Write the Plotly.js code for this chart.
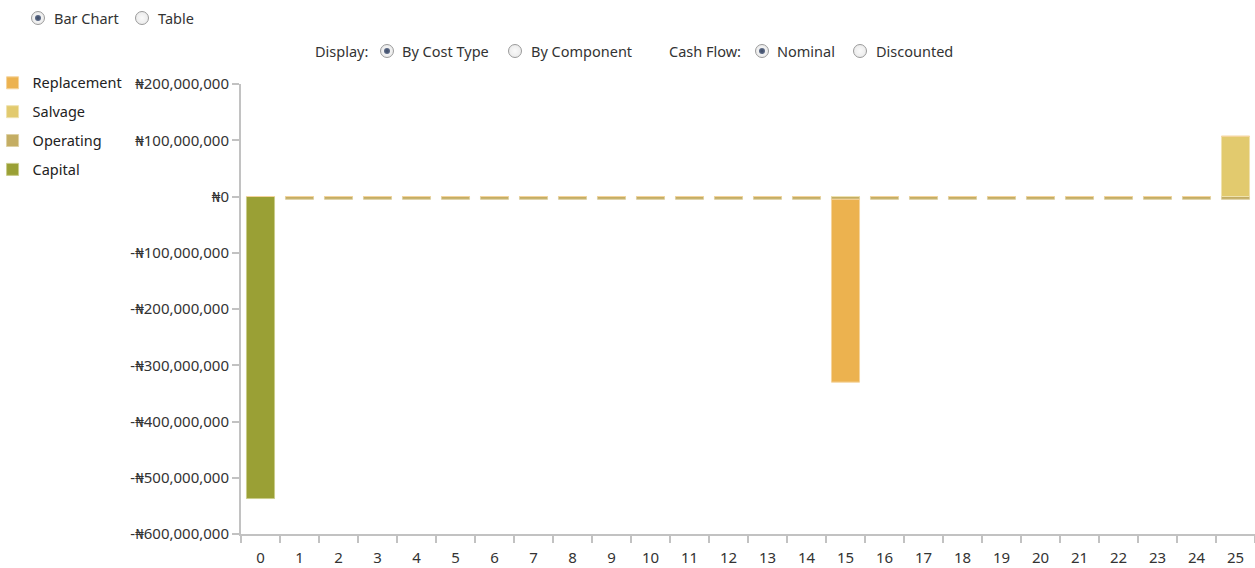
<!DOCTYPE html>
<html>
<head>
<meta charset="utf-8">
<script src="https://cdn.plot.ly/plotly-3.0.1.min.js"></script>
<style>
  html, body { margin: 0; padding: 0; background: #fff; width: 1255px; height: 568px; overflow: hidden; }
  body { position: relative; font-family: "Noto Sans", "Open Sans", sans-serif; }
  #chart { position: absolute; left: 0; top: 0; width: 1255px; height: 568px; }
  .ctl { position: absolute; font-size: 14.5px; color: #333; white-space: nowrap; line-height: 18px; }
  .radio { position: absolute; width: 14px; height: 14px; border-radius: 50%; box-sizing: border-box;
           border: 1px solid #9a9a9a; background: radial-gradient(circle, #fafafa 0%, #e6e6e6 100%); }
  .radio.on::after { content: ""; position: absolute; left: 3px; top: 3px; width: 6px; height: 6px; border-radius: 50%;
           background: radial-gradient(circle, #3c4a66 0%, #6c7a96 100%); }
</style>
</head>
<body>
<div id="chart"></div>
<div id="ui"></div>
<script>
// ---- data ----
const years = ["0","1","2","3","4","5","6","7","8","9","10","11","12","13","14","15","16","17","18","19","20","21","22","23","24","25"];
const capital     = [-537000000,0,0,0,0,0,0,0,0,0,0,0,0,0,0,0,0,0,0,0,0,0,0,0,0,0];
const operating   = [0,-5000000,-5000000,-5000000,-5000000,-5000000,-5000000,-5000000,-5000000,-5000000,-5000000,-5000000,-5000000,-5000000,-5000000,-5000000,-5000000,-5000000,-5000000,-5000000,-5000000,-5000000,-5000000,-5000000,-5000000,-5000000];
const salvage     = [0,0,0,0,0,0,0,0,0,0,0,0,0,0,0,0,0,0,0,0,0,0,0,0,0,107000000];
const replacement = [0,0,0,0,0,0,0,0,0,0,0,0,0,0,0,-325000000,0,0,0,0,0,0,0,0,0,0];
const seriesNames = ["Capital","Operating","Salvage","Replacement"];
const legendRanks = [4, 3, 2, 1];
const yTickVals = [200000000,100000000,0,-100000000,-200000000,-300000000,-400000000,-500000000,-600000000];
const yTickText = ["₦200,000,000","₦100,000,000","₦0","-₦100,000,000","-₦200,000,000","-₦300,000,000","-₦400,000,000","-₦500,000,000","-₦600,000,000"];

const colors = ["#9aa035","#c4ad63","#e2ca6e","#ecb24f"];
const edges  = ["#c9cc8a","#ddd0a3","#efe2ae","#f5d49c"];
const values = [capital, operating, salvage, replacement];

const traces = values.map((v, i) => ({
  type: "bar", x: years, y: v, name: seriesNames[i],
  legendgroup: seriesNames[i], legendrank: legendRanks[i],
  marker: { color: colors[i], line: { color: edges[i], width: 1 } },
  hoverinfo: "x+y+name"
}));

const layout = {
  width: 1255, height: 568,
  margin: { l: 241, r: 0, t: 84, b: 34, autoexpand: false },
  paper_bgcolor: "#fff", plot_bgcolor: "#fff",
  barmode: "relative", bargap: 0.28,
  font: { family: "Noto Sans, Open Sans, sans-serif", size: 14, color: "#333" },
  showlegend: true,
  legend: {
    x: -0.245, xanchor: "left", y: 1.038, yanchor: "top",
    traceorder: "grouped", tracegroupgap: 7,
    font: { size: 14.5, color: "#222" }, itemwidth: 30,
    bgcolor: "rgba(0,0,0,0)"
  },
  xaxis: {
    type: "category", categoryorder: "array", categoryarray: years,
    range: [-0.5, 25.5],
    showgrid: false, zeroline: false,
    showline: true, linecolor: "#c2c2c2", linewidth: 2,
    ticks: "outside", tickson: "boundaries", ticklen: 7, tickcolor: "#c2c2c2", tickwidth: 2,
    ticklabelstandoff: 9,
    tickfont: { size: 15, color: "#333" }, fixedrange: true
  },
  yaxis: {
    range: [-600000000, 200000000],
    tickvals: yTickVals, ticktext: yTickText,
    showgrid: false, zeroline: false,
    showline: true, linecolor: "#c2c2c2", linewidth: 2,
    ticks: "outside", ticklen: 7, tickcolor: "#c2c2c2", tickwidth: 2,
    tickfont: { size: 15, color: "#333" }, fixedrange: true
  }
};

Plotly.newPlot("chart", traces, layout, { displayModeBar: false, staticPlot: true });

// ---- radio controls ----
const controls = [
  { type: "radio", on: true,  x: 31,  y: 11 }, { type: "text", text: "Bar Chart", x: 54, y: 9 },
  { type: "radio", on: false, x: 135, y: 11 }, { type: "text", text: "Table", x: 158, y: 9 },
  { type: "text", text: "Display:", x: 315, y: 42 },
  { type: "radio", on: true,  x: 380, y: 44 }, { type: "text", text: "By Cost Type", x: 402, y: 42 },
  { type: "radio", on: false, x: 508, y: 44 }, { type: "text", text: "By Component", x: 531, y: 42 },
  { type: "text", text: "Cash Flow:", x: 669, y: 42 },
  { type: "radio", on: true,  x: 755, y: 44 }, { type: "text", text: "Nominal", x: 777, y: 42 },
  { type: "radio", on: false, x: 853, y: 44 }, { type: "text", text: "Discounted", x: 876, y: 42 }
];
const ui = document.getElementById("ui");
controls.forEach(c => {
  const d = document.createElement("div");
  if (c.type === "radio") { d.className = "radio" + (c.on ? " on" : ""); }
  else { d.className = "ctl"; d.textContent = c.text; }
  d.style.left = c.x + "px"; d.style.top = c.y + "px";
  ui.appendChild(d);
});
</script>
</body>
</html>
